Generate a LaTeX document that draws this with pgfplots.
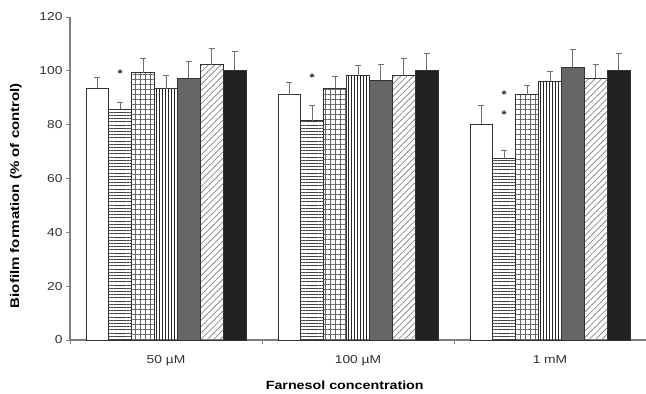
\documentclass[border=0pt]{standalone}
\usepackage{fontspec}
\setmainfont{Liberation Sans}[FakeStretch=1.2]
\usepackage{pgfplots}
\pgfplotsset{compat=1.18}
\usetikzlibrary{patterns.meta}
\definecolor{axgray}{HTML}{808080}
\definecolor{ebgray}{HTML}{707070}
\definecolor{outl}{HTML}{333333}
\begin{document}
\begin{tikzpicture}
\pgfplotsset{
  eb/.style={error bars/.cd, y dir=plus, y explicit,
    error bar style={ebgray, line width=0.9pt},
    error mark options={rotate=90, mark size=3pt, ebgray, line width=0.9pt}},
}
\begin{axis}[
  scale only axis, width=576pt, height=323pt,
  xmin=-0.5, xmax=2.5, ymin=0, ymax=120,
  axis x line*=bottom, axis y line*=left,
  axis line style={draw=axgray, line width=1.1pt},
  ytick={0,20,...,120},
  xtick={0,1,2}, xticklabels={50 µM,100 µM,1 mM},
  minor xtick={-0.5,0.5,1.5,2.5},
  major x tick style={draw=none},
  tick align=outside, major tick length=4pt, minor tick length=4pt,
  tick style={axgray, line width=0.9pt},
  /pgf/number format/assume math mode=true,
  ticklabel style={font=\fontsize{11.5}{13}\selectfont, text=black!80},
  xticklabel style={yshift=-8pt},
  ylabel={Biofilm formation (\% of control)},
  xlabel={Farnesol concentration},
  ylabel style={font=\bfseries\fontsize{12.5}{14}\selectfont, at={([xshift=-54pt]axis description cs:0,0.447)}, anchor=center},
  xlabel style={font=\bfseries\fontsize{11.9}{13}\selectfont, at={([yshift=-45pt]axis description cs:0.477,0)}, anchor=center},
  ybar, bar width=0.119,
  clip=false,
]
% series 1: white
\addplot[draw=outl, line width=0.8pt, fill=white, bar shift=-0.357, eb] coordinates {
  (0,93.5) +- (0,4.0) (1,91.2) +- (0,4.4) (2,80.2) +- (0,7.0)};
% series 2: horizontal lines
\addplot[draw=outl, line width=0.8pt, pattern={Lines[angle=0, distance=3.2pt, line width=1pt]}, pattern color=black!75, bar shift=-0.238, eb] coordinates {
  (0,85.8) +- (0,2.3) (1,81.5) +- (0,5.5) (2,67.3) +- (0,3.2)};
% series 3: grid
\addplot[draw=outl, line width=0.8pt, pattern={Hatch[angle=0, distance=5pt, line width=0.7pt]}, pattern color=black!60, bar shift=-0.119, eb] coordinates {
  (0,99.3) +- (0,5.2) (1,93.5) +- (0,4.3) (2,91.2) +- (0,3.3)};
% series 4: vertical lines
\addplot[draw=outl, line width=0.8pt, pattern={Lines[angle=90, distance=3pt, line width=1pt]}, pattern color=black!85, bar shift=0, eb] coordinates {
  (0,93.3) +- (0,5.0) (1,98.2) +- (0,3.8) (2,96.2) +- (0,3.4)};
% series 5: dark grey
\addplot[draw=outl, line width=0.8pt, fill=black!60, bar shift=0.119, eb] coordinates {
  (0,97.3) +- (0,6.0) (1,96.5) +- (0,6.0) (2,101.3) +- (0,6.5)};
% series 6: diagonal hatch
\addplot[draw=outl, line width=0.8pt, pattern={Lines[angle=45, distance=4.5pt, line width=0.8pt]}, pattern color=black!45, bar shift=0.238, eb] coordinates {
  (0,102.3) +- (0,6.0) (1,98.3) +- (0,6.2) (2,97.3) +- (0,5.2)};
% series 7: black
\addplot[draw=outl, line width=0.8pt, fill=black!87, bar shift=0.357, eb] coordinates {
  (0,100.3) +- (0,6.8) (1,100.3) +- (0,6.2) (2,100.3) +- (0,6.0)};
% significance stars (invisible bars carrying the labels)
\addplot[draw=none, fill=none, bar shift=-0.238, nodes near coords={*},
  every node near coord/.append style={anchor=center, font=\bfseries\fontsize{11}{12}\selectfont, text=black!85}]
  coordinates {(0,99.0) (1,97.5) (2,91.3)};
\addplot[draw=none, fill=none, bar shift=-0.238, nodes near coords={*},
  every node near coord/.append style={anchor=center, font=\bfseries\fontsize{11}{12}\selectfont, text=black!85}]
  coordinates {(2,83.6)};
\end{axis}
\pgfresetboundingbox
\path[use as bounding box] ([shift={(-70pt,-54pt)}]current axis.south west) rectangle ([shift={(0pt,17pt)}]current axis.north east);
\end{tikzpicture}
\end{document}
